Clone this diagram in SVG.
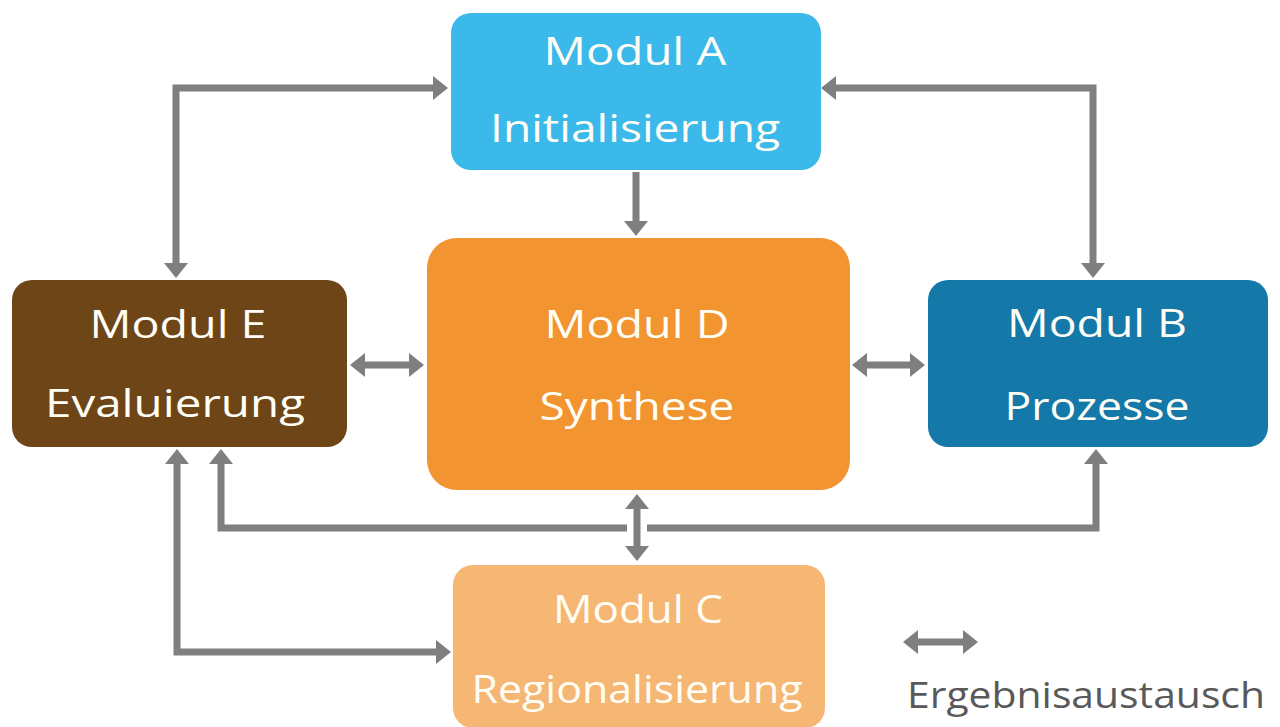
<svg xmlns="http://www.w3.org/2000/svg" width="1280" height="727" viewBox="0 0 1280 727">
<style>
  .box text { font-family: "Open Sans", "Noto Sans", "Liberation Sans", sans-serif; font-size: 39px; fill: #FFFEF6; text-anchor: middle; }
  .conn path { fill: none; stroke: #7F7F7F; stroke-width: 7; stroke-linejoin: miter; stroke-linecap: butt; marker-start: url(#ah); marker-end: url(#ah); }
  .conn path.one { marker-start: none; }
  .legend text { font-family: "Open Sans", "Noto Sans", "Liberation Sans", sans-serif; font-size: 36px; fill: #595959; }
</style>
<defs>
  <marker id="ah" viewBox="0 0 15 24" refX="8" refY="12" markerWidth="15" markerHeight="24" markerUnits="userSpaceOnUse" orient="auto-start-reverse">
    <path d="M0,0 L15,12 L0,24 z" fill="#7F7F7F"/>
  </marker>
</defs>
<rect width="1280" height="727" fill="#FFFFFF"/>

<g id="modul-a" class="box">
  <rect x="451" y="13" width="370" height="157" rx="20" fill="#3BB9EA"/>
  <text x="635" y="65" textLength="183" lengthAdjust="spacingAndGlyphs">Modul A</text>
  <text x="635" y="142" textLength="290" lengthAdjust="spacingAndGlyphs">Initialisierung</text>
</g>
<g id="modul-e" class="box">
  <rect x="12" y="280" width="335" height="167" rx="20" fill="#6E4516"/>
  <text x="178" y="338" textLength="177" lengthAdjust="spacingAndGlyphs">Modul E</text>
  <text x="175" y="417" textLength="260" lengthAdjust="spacingAndGlyphs">Evaluierung</text>
</g>
<g id="modul-d" class="box">
  <rect x="427" y="238" width="423" height="252" rx="30" fill="#F29430"/>
  <text x="637" y="338" textLength="185" lengthAdjust="spacingAndGlyphs">Modul D</text>
  <text x="637" y="420" textLength="195" lengthAdjust="spacingAndGlyphs">Synthese</text>
</g>
<g id="modul-b" class="box">
  <rect x="928" y="280" width="340" height="167" rx="20" fill="#1479A9"/>
  <text x="1097" y="337" textLength="180" lengthAdjust="spacingAndGlyphs">Modul B</text>
  <text x="1097" y="420" textLength="185" lengthAdjust="spacingAndGlyphs">Prozesse</text>
</g>
<g id="modul-c" class="box">
  <rect x="453" y="565" width="372" height="163" rx="20" fill="#F5B773"/>
  <text x="638" y="623" textLength="170" lengthAdjust="spacingAndGlyphs">Modul C</text>
  <text x="637" y="703" textLength="331" lengthAdjust="spacingAndGlyphs">Regionalisierung</text>
</g>

<g id="connectors" class="conn">
  <path d="M441,88 H176 V271"/>
  <path d="M828,88 H1093 V271"/>
  <path class="one" d="M636,172 V229"/>
  <path d="M357,365 H417"/>
  <path d="M859,365 H918"/>
  <path d="M637,501 V554"/>
  <path d="M221,456 V528 H627 M647,528 H1096 V456"/>
  <path d="M177,456 V652 H444"/>
</g>

<g id="legend" class="legend">
  <path d="M910,642 H971" fill="none" stroke="#7F7F7F" stroke-width="7" marker-start="url(#ah)" marker-end="url(#ah)"/>
  <text x="907" y="708" textLength="358" lengthAdjust="spacingAndGlyphs">Ergebnisaustausch</text>
</g>
</svg>
